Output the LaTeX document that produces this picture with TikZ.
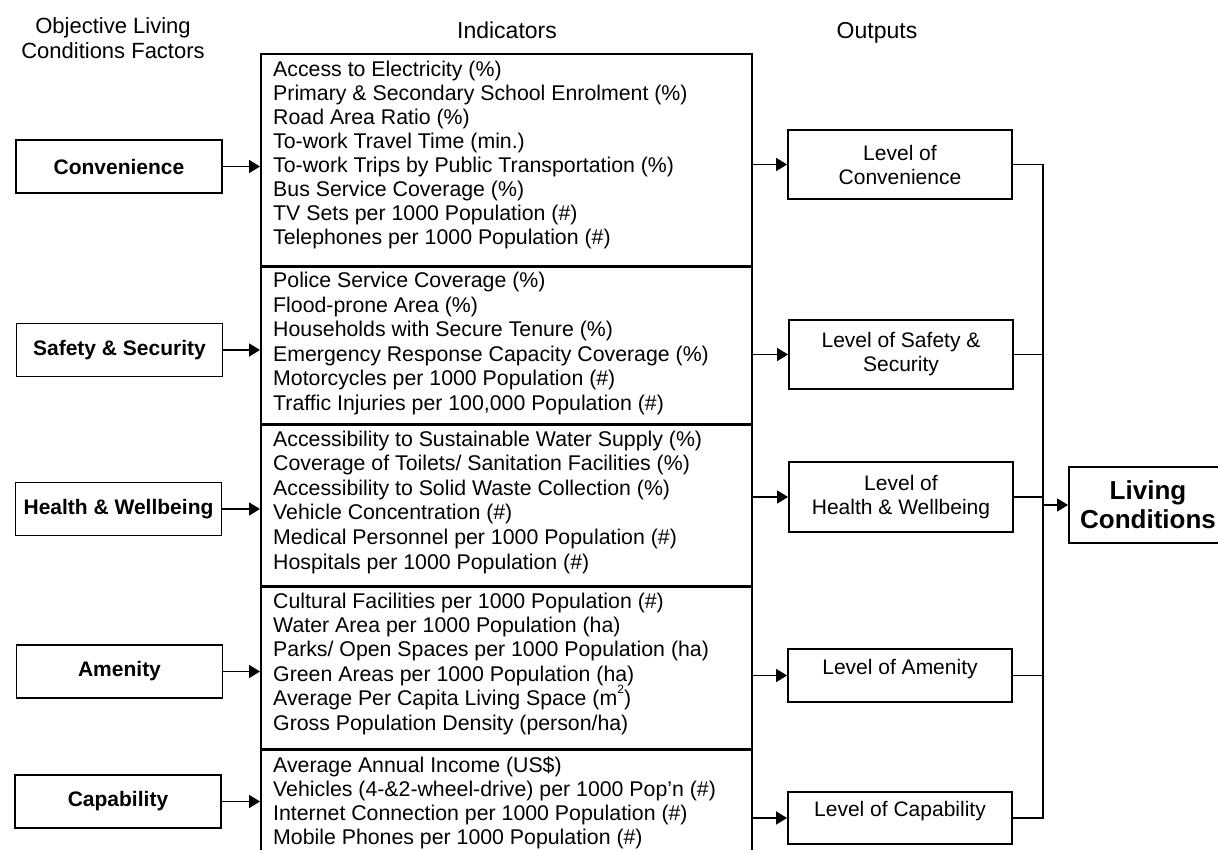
\documentclass[tikz,border=0pt]{standalone}
\usepackage{fontspec}
\setmainfont{Liberation Sans}
\usetikzlibrary{arrows.meta}
\begin{document}
\begin{tikzpicture}[x=1pt,y=-1pt,
  title/.style={anchor=base,inner sep=0pt,font=\fontsize{23}{25}\selectfont},
  factor/.style={draw,line width=1.9pt,minimum width=206pt,minimum height=53pt,
    inner sep=0pt,font=\fontsize{21}{24}\selectfont\bfseries},
  group/.style={draw,line width=1.9pt,minimum width=491pt,inner sep=0pt,anchor=north west},
  sep/.style={line width=2.8pt},
  item/.style={anchor=base west,inner sep=0pt,font=\fontsize{21.3}{24}\selectfont},
  level/.style={draw,line width=1.9pt,minimum width=224pt,inner sep=0pt,
    align=center,font=\fontsize{21}{24}\selectfont},
  leveltext/.style={inner sep=0pt,font=\fontsize{21}{24}\selectfont},
  result/.style={draw,line width=1.9pt,minimum width=158pt,minimum height=76pt,
    inner sep=0pt,align=center,font=\fontsize{26}{29}\selectfont\bfseries},
  conn/.style={line width=1.8pt},
  arr/.style={conn,-{Triangle[length=11pt,width=13pt]}}]

\useasboundingbox (0,0) rectangle (1218,850);
\fill[white] (0,0) rectangle (1218,850);
\clip (0,0) rectangle (1218,850);

% column headings
\node[title,font=\fontsize{22}{25}\selectfont] (t1a) at (113,34) {Objective Living};
\node[title,font=\fontsize{22}{25}\selectfont] (t1b) at (113,59) {Conditions Factors};
\node[title] (t2) at (507,39) {Indicators};
\node[title] (t3) at (877,39) {Outputs};

% factors
\node[factor] (f1) at (119,166.5) {Convenience};
\node[factor] (f2) at (119.5,350) {Safety \& Security};
\node[factor] (f3) at (118.5,509) {Health \& Wellbeing};
\node[factor] (f4) at (119.5,671.5) {Amenity};
\node[factor] (f5) at (118,801.5) {Capability};

% indicator groups
\node[group,minimum height=212pt] (g1) at (260,53) {};
\node[group,minimum height=158pt] (g2) at (260,265) {};
\node[group,minimum height=162pt] (g3) at (260,423) {};
\node[group,minimum height=163pt] (g4) at (260,585) {};
\node[group,minimum height=130pt] (g5) at (260,748) {};
\draw[sep] (g1.south west) -- (g1.south east);
\draw[sep] (g2.south west) -- (g2.south east);
\draw[sep] (g3.south west) -- (g3.south east);
\draw[sep] (g4.south west) -- (g4.south east);

\foreach \t [count=\i] in {
  {Access to Electricity (\%)},
  {Primary \& Secondary School Enrolment (\%)},
  {Road Area Ratio (\%)},
  {To-work Travel Time (min.)},
  {To-work Trips by Public Transportation (\%)},
  {Bus Service Coverage (\%)},
  {TV Sets per 1000 Population (\#)},
  {Telephones per 1000 Population (\#)}}
  \node[item] (a\i) at (273,{77+24*(\i-1)}) {\t};

\foreach \t [count=\i] in {
  {Police Service Coverage (\%)},
  {Flood-prone Area (\%)},
  {Households with Secure Tenure (\%)},
  {Emergency Response Capacity Coverage (\%)},
  {Motorcycles per 1000 Population (\#)},
  {Traffic Injuries per 100{,}000 Population (\#)}}
  \node[item] (b\i) at (273,{288+24.4*(\i-1)}) {\t};

\foreach \t [count=\i] in {
  {Accessibility to Sustainable Water Supply (\%)},
  {Coverage of Toilets/ Sanitation Facilities (\%)},
  {Accessibility to Solid Waste Collection (\%)},
  {Vehicle Concentration (\#)},
  {Medical Personnel per 1000 Population (\#)},
  {Hospitals per 1000 Population (\#)}}
  \node[item] (c\i) at (273,{446+24.6*(\i-1)}) {\t};

\foreach \t [count=\i] in {
  {Cultural Facilities per 1000 Population (\#)},
  {Water Area per 1000 Population (ha)},
  {Parks/ Open Spaces per 1000 Population (ha)},
  {Green Areas per 1000 Population (ha)},
  {Average Per Capita Living Space (m\raisebox{0.55em}{\fontsize{12}{12}\selectfont 2})},
  {Gross Population Density (person/ha)}}
  \node[item] (d\i) at (273,{608+24.4*(\i-1)}) {\t};

\foreach \t [count=\i] in {
  {Average Annual Income (US\$)},
  {Vehicles (4-\&2-wheel-drive) per 1000 Pop’n (\#)},
  {Internet Connection per 1000 Population (\#)},
  {Mobile Phones per 1000 Population (\#)}}
  \node[item] (e\i) at (273,{772+24*(\i-1)}) {\t};

% outputs
\node[level,minimum height=69pt] (l1) at (900,164.5) {Level of\\Convenience};
\node[level,minimum height=69pt] (l2) at (901,354.5) {Level of Safety \&\\Security};
\node[level,minimum height=70pt] (l3) at (901,497) {Level of\\Health \& Wellbeing};
\node[level,minimum height=53pt] (l4) at (900,675.5) {};
\node[leveltext] (l4t) at ([yshift=6pt]l4.center) {Level of Amenity};
\node[level,minimum height=52pt] (l5) at (900,818) {};
\node[leveltext] (l5t) at ([yshift=7pt]l5.center) {Level of Capability};

% overall result
\node[result] (lc) at (1148,505) {Living\\Conditions};

% factor -> indicator arrows
\draw[arr] (f1.east) -- (f1.east -| g1.west);
\draw[arr] (f2.east) -- (f2.east -| g2.west);
\draw[arr] (f3.east) -- (f3.east -| g3.west);
\draw[arr] (f4.east) -- (f4.east -| g4.west);
\draw[arr] (f5.east) -- (f5.east -| g5.west);

% indicator -> output arrows
\draw[arr] (l1.west -| g1.east) -- (l1.west);
\draw[arr] (l2.west -| g2.east) -- (l2.west);
\draw[arr] (l3.west -| g3.east) -- (l3.west);
\draw[arr] (l4.west -| g4.east) -- (l4.west);
\draw[arr] (l5.west -| g5.east) -- (l5.west);

% collector bus
\coordinate (bus) at (1043,0);
\draw[conn] (l1.east) -- (l1.east -| bus) -- (l5.east -| bus) -- (l5.east);
\draw[conn] (l2.east) -- (l2.east -| bus);
\draw[conn] (l3.east) -- (l3.east -| bus);
\draw[conn] (l4.east) -- (l4.east -| bus);
\draw[arr] (lc.west -| bus) -- (lc.west);
\end{tikzpicture}
\end{document}
